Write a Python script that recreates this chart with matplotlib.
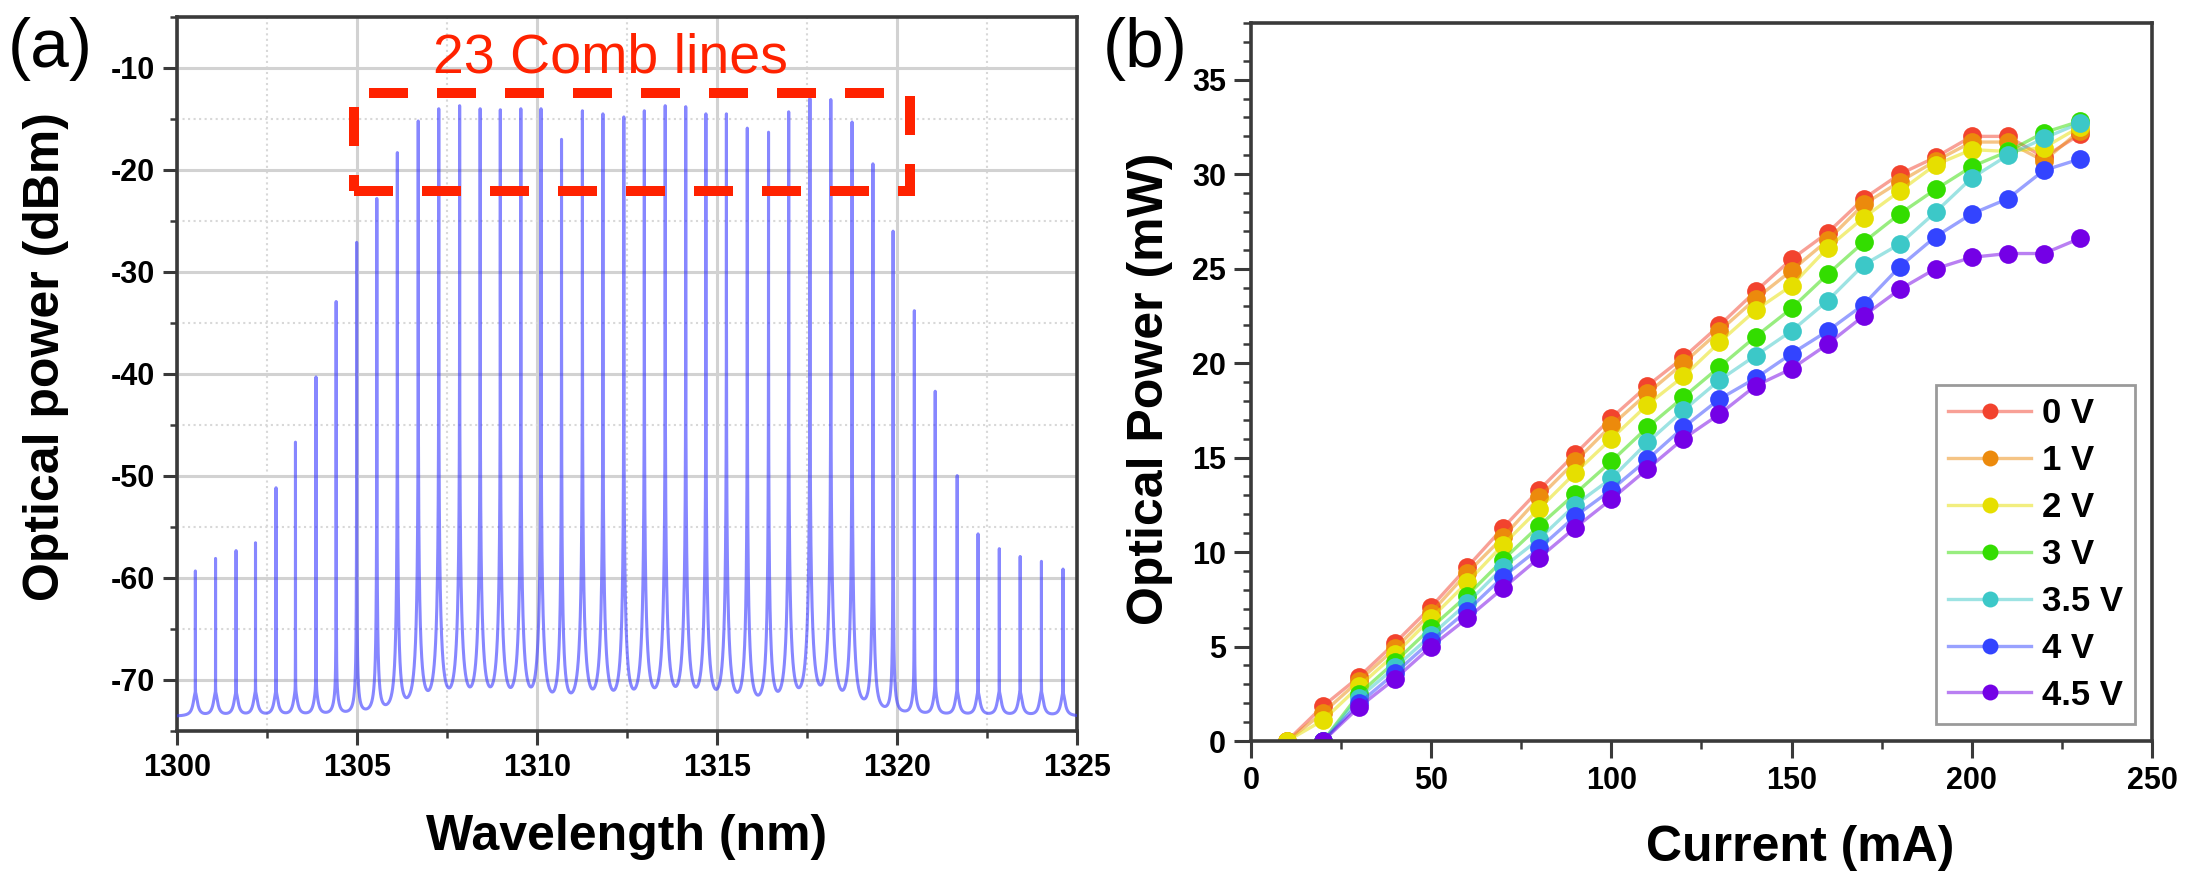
import numpy as np
import matplotlib
matplotlib.use('Agg')
import matplotlib.pyplot as plt
from matplotlib.patches import Rectangle
from matplotlib.ticker import MultipleLocator

plt.rcParams['axes.unicode_minus'] = False
plt.rcParams['font.family'] = ['Liberation Sans', 'DejaVu Sans']

# ---------------- Panel (a): comb spectrum ----------------
peak_wl_nm = [1300.51, 1301.07, 1301.64, 1302.18, 1302.75, 1303.29, 1303.86, 1304.42,
              1304.99, 1305.55, 1306.12, 1306.70, 1307.27, 1307.85, 1308.42, 1308.98,
              1309.55, 1310.11, 1310.68, 1311.26, 1311.83, 1312.41, 1312.98, 1313.56,
              1314.13, 1314.69, 1315.26, 1315.84, 1316.43, 1316.99, 1317.58, 1318.16,
              1318.75, 1319.33, 1319.89, 1320.48, 1321.06, 1321.67, 1322.25, 1322.84,
              1323.42, 1324.01, 1324.61]
peak_dbm = [-59.6, -58.3, -57.5, -56.7, -51.2, -46.7, -40.3, -32.9,
            -27.1, -22.8, -18.3, -15.2, -14.0, -13.7, -14.0, -14.1,
            -14.0, -14.0, -17.0, -14.2, -14.5, -14.8, -14.2, -13.7,
            -13.8, -14.5, -14.5, -15.9, -16.3, -14.3, -13.0, -13.1,
            -15.3, -19.4, -26.0, -33.8, -41.7, -50.0, -55.8, -57.3,
            -58.1, -58.6, -59.4]
floor_dbm = -73.6          # OSA noise floor
pedestal_ratio = 0.7       # broad pedestal under each line, relative to floor
pedestal_hwhm_nm = 0.06
line_hwhm_nm = 0.00018     # instrument line half width

box_wl = [1304.92, 1320.36]
box_dbm = [-22.1, -12.46]
box_label = '23 Comb lines'

# ---------------- Panel (b): L-I curves ----------------
current_ma = [10, 20, 30, 40, 50, 60, 70, 80, 90, 100, 110, 120, 130, 140, 150,
              160, 170, 180, 190, 200, 210, 220, 230]
bias_labels = ['0 V', '1 V', '2 V', '3 V', '3.5 V', '4 V', '4.5 V']
power_0v = [0.0, 1.85, 3.4, 5.2, 7.1, 9.2, 11.3, 13.3, 15.2, 17.1, 18.8, 20.3, 22.0,
            23.8, 25.5, 26.9, 28.7, 30.0, 30.9, 32.0, 32.0, 30.9, 32.1]
power_1v = [0.0, 1.5, 3.2, 4.9, 6.8, 8.9, 10.8, 12.9, 14.8, 16.7, 18.4, 20.0, 21.7,
            23.4, 24.9, 26.5, 28.4, 29.6, 30.7, 31.7, 31.7, 30.7, 32.3]
power_2v = [0.0, 1.1, 2.9, 4.6, 6.5, 8.4, 10.4, 12.3, 14.2, 16.0, 17.8, 19.3, 21.1,
            22.8, 24.1, 26.1, 27.7, 29.1, 30.5, 31.3, 31.2, 31.4, 32.5]
# the following start at 20 mA
power_3v = [0.0, 2.5, 4.2, 6.0, 7.7, 9.6, 11.4, 13.1, 14.8, 16.6, 18.2, 19.8,
            21.4, 22.9, 24.7, 26.4, 27.9, 29.2, 30.4, 31.2, 32.2, 32.8]
power_3p5v = [0.0, 2.3, 3.9, 5.6, 7.3, 9.2, 10.7, 12.5, 13.9, 15.8, 17.5, 19.1,
              20.4, 21.7, 23.3, 25.2, 26.3, 28.0, 29.8, 31.0, 31.9, 32.7]
power_4v = [0.0, 2.0, 3.6, 5.3, 6.9, 8.7, 10.2, 11.9, 13.3, 14.9, 16.6, 18.1,
            19.2, 20.5, 21.7, 23.1, 25.1, 26.7, 27.9, 28.7, 30.2, 30.8]
power_4p5v = [0.0, 1.8, 3.3, 5.0, 6.5, 8.1, 9.7, 11.3, 12.8, 14.4, 16.0, 17.3,
              18.8, 19.7, 21.0, 22.5, 23.9, 25.0, 25.6, 25.8, 25.8, 26.6]
series_colors = ['#f2432e', '#ec8a0c', '#e6df00', '#33dd00', '#3cc8c8', '#3344ff', '#7400e6']

# ---------------- Figure ----------------
fig = plt.figure(figsize=(21.99, 8.88), dpi=100)
axA = fig.add_axes([0.0805, 0.1768, 0.4093, 0.8041])
axB = fig.add_axes([0.5689, 0.1655, 0.4097, 0.8086])

spine_c = '#3a3a3a'
for ax in (axA, axB):
    for s in ax.spines.values():
        s.set_linewidth(2.6)
        s.set_color(spine_c)
    ax.tick_params(which='major', direction='out', length=10, width=2.2,
                   labelsize=22, pad=6, color=spine_c, top=False, right=False)
    ax.tick_params(which='minor', direction='out', length=5, width=1.8,
                   color=spine_c, top=False, right=False)

# ---- panel (a)
wl = np.union1d(np.linspace(1300, 1325, 50001), np.array(peak_wl_nm))
pk_c = np.array(peak_wl_nm)[:, None]
pk_p = 10 ** (np.array(peak_dbm)[:, None] / 10)
d = wl[None, :] - pk_c
floor_lin = 10 ** (floor_dbm / 10)
lin = (floor_lin
       + np.sum(pk_p / (1 + (d / line_hwhm_nm) ** 2), axis=0)
       + np.sum(pedestal_ratio * floor_lin / (1 + (d / pedestal_hwhm_nm) ** 2), axis=0))
trace = 10 * np.log10(lin)
axA.plot(wl, trace, color='#3d3dff', alpha=0.62, lw=2.2, zorder=3)

axA.set_xlim(1300, 1325)
axA.set_ylim(-75, -5)
axA.xaxis.set_major_locator(MultipleLocator(5))
axA.xaxis.set_minor_locator(MultipleLocator(2.5))
axA.yaxis.set_major_locator(MultipleLocator(10))
axA.yaxis.set_minor_locator(MultipleLocator(5))
axA.set_yticks([-10, -20, -30, -40, -50, -60, -70])
axA.set_axisbelow(True)
axA.grid(which='major', color='#d2d2d2', lw=2.2, ls='-')
axA.grid(which='minor', color='#d8d8d8', lw=1.5, ls=':')

axA.add_patch(Rectangle((box_wl[0], box_dbm[0]), box_wl[1] - box_wl[0], box_dbm[1] - box_dbm[0],
                        fill=False, edgecolor='#ff2200', lw=7.2, ls=(0, (3.9, 2.9)),
                        joinstyle='miter', zorder=5, clip_on=False))
axA.text(np.mean(box_wl) - 0.6, -10.4, box_label, color='#ff2200', fontsize=40,
         ha='center', va='baseline', zorder=6)

axA.set_xlabel('Wavelength (nm)', fontsize=36, fontweight='bold')
axA.xaxis.label.set_va('center')
axA.xaxis.set_label_coords(0.5, -0.1485)
axA.set_ylabel('Optical power (dBm)', fontsize=36, fontweight='bold')
axA.yaxis.label.set_va('center')
axA.yaxis.set_label_coords(-0.1456, 0.525)

# ---- panel (b)
series = [power_0v, power_1v, power_2v, power_3v, power_3p5v, power_4v, power_4p5v]
for vals, lab, col in zip(series, bias_labels, series_colors):
    xs = current_ma[len(current_ma) - len(vals):]
    rgb = matplotlib.colors.to_rgb(col)
    axB.plot(xs, vals, '-o', color=(*rgb, 0.5), lw=2.4, ms=13.5,
             mfc=col, mec=col, mew=0, label=lab)

axB.set_xlim(0, 250)
axB.set_ylim(0, 38)
axB.xaxis.set_major_locator(MultipleLocator(50))
axB.xaxis.set_minor_locator(MultipleLocator(25))
axB.yaxis.set_major_locator(MultipleLocator(5))
axB.yaxis.set_minor_locator(MultipleLocator(1))
axB.tick_params(which='major', length=12)
axB.tick_params(which='minor', length=6)

leg = axB.legend(loc='lower right', bbox_to_anchor=(0.981, 0.024), frameon=True,
                 fancybox=False, edgecolor='#9a9a9a', framealpha=1,
                 prop={'weight': 'bold', 'size': 25}, handlelength=2.4,
                 handletextpad=0.3, labelspacing=0.4, borderpad=0.35,
                 borderaxespad=0, markerscale=0.85)
leg.get_frame().set_linewidth(2)

axB.set_xlabel('Current (mA)', fontsize=36, fontweight='bold')
axB.xaxis.label.set_va('center')
axB.xaxis.set_label_coords(0.61, -0.149)
axB.set_ylabel('Optical Power (mW)', fontsize=36, fontweight='bold')
axB.yaxis.label.set_va('center')
axB.yaxis.set_label_coords(-0.112, 0.49)

for ax in (axA, axB):
    for lab in ax.get_xticklabels() + ax.get_yticklabels():
        lab.set_fontweight('bold')

fig.text(50 / 2199, 1 - 49 / 888, '(a)', fontsize=50, ha='center', va='center')
fig.text(1145 / 2199, 1 - 49 / 888, '(b)', fontsize=50, ha='center', va='center')

fig.savefig('out.png', dpi=100)
